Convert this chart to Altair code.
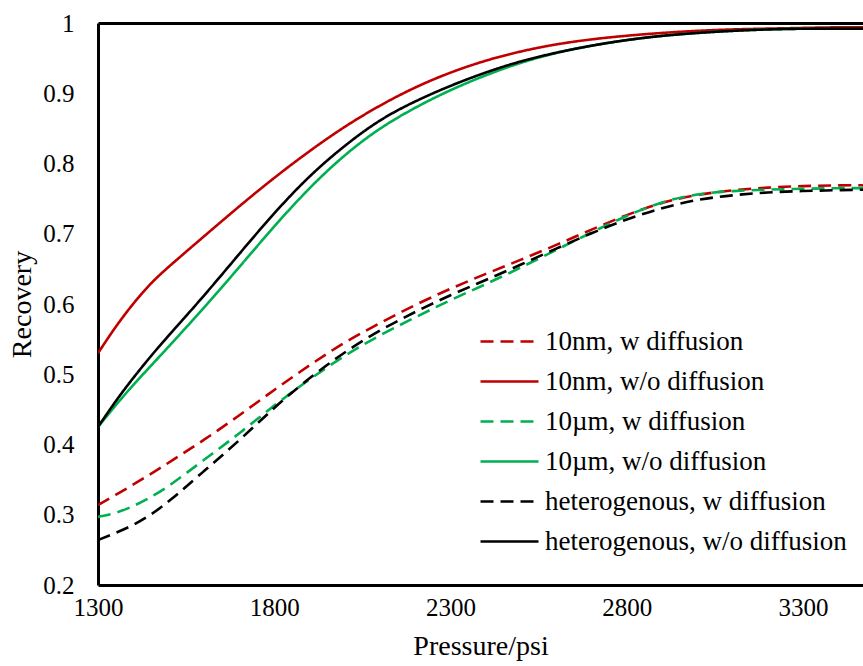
import altair as alt
import pandas as pd

pressure = [1300, 1350, 1400, 1450, 1500, 1600, 1700, 1800, 1900, 2000, 2100, 2200,
            2300, 2400, 2500, 2600, 2700, 2800, 2900, 3000, 3100, 3200, 3300, 3400, 3500]

nm_w = [0.314, 0.328, 0.343, 0.358, 0.374, 0.406, 0.441, 0.478, 0.513, 0.546, 0.573, 0.599,
        0.622, 0.643, 0.663, 0.684, 0.706, 0.727, 0.745, 0.756, 0.762, 0.766, 0.768, 0.769, 0.769]
nm_wo = [0.530, 0.568, 0.601, 0.630, 0.653, 0.696, 0.739, 0.780, 0.818, 0.853, 0.883, 0.909,
         0.930, 0.947, 0.960, 0.970, 0.977, 0.982, 0.986, 0.989, 0.991, 0.992, 0.993, 0.994, 0.994]
um_w = [0.297, 0.302, 0.312, 0.325, 0.340, 0.378, 0.415, 0.456, 0.493, 0.527, 0.556, 0.581,
        0.606, 0.628, 0.652, 0.677, 0.702, 0.726, 0.746, 0.757, 0.761, 0.763, 0.764, 0.765, 0.765]
um_wo = [0.425, 0.456, 0.485, 0.512, 0.539, 0.594, 0.652, 0.711, 0.766, 0.813, 0.851, 0.880,
         0.905, 0.926, 0.944, 0.958, 0.968, 0.976, 0.982, 0.986, 0.989, 0.991, 0.992, 0.992, 0.992]
het_w = [0.264, 0.274, 0.285, 0.300, 0.318, 0.362, 0.405, 0.453, 0.495, 0.532, 0.563, 0.589,
         0.613, 0.634, 0.656, 0.679, 0.701, 0.721, 0.737, 0.749, 0.755, 0.759, 0.761, 0.762, 0.763]
het_wo = [0.425, 0.462, 0.495, 0.526, 0.555, 0.611, 0.671, 0.730, 0.783, 0.826, 0.863, 0.889,
          0.911, 0.930, 0.946, 0.958, 0.968, 0.976, 0.982, 0.986, 0.989, 0.991, 0.992, 0.992, 0.992]

series_names = ["10nm, w diffusion", "10nm, w/o diffusion", "10µm, w diffusion",
                "10µm, w/o diffusion", "heterogenous, w diffusion", "heterogenous, w/o diffusion"]
series_values = [nm_w, nm_wo, um_w, um_wo, het_w, het_wo]
series_colors = ["#C00000", "#C00000", "#00B050", "#00B050", "#000000", "#000000"]
series_dash = [[13, 7], [1, 0], [13, 7], [1, 0], [13, 7], [1, 0]]

rows = []
for name, vals in zip(series_names, series_values):
    for p, v in zip(pressure, vals):
        rows.append({"Pressure": p, "Recovery": v, "series": name})
df = pd.DataFrame(rows)

FONT = "Liberation Serif"
xscale = alt.Scale(domain=[1300, 3470], nice=False, zero=False)
yscale = alt.Scale(domain=[0.2, 1.0], nice=False, zero=False)

legend_cfg = dict(title=None, orient="none", legendX=385, legendY=292,
                  symbolType="M-1.16,0H1.16", symbolSize=2500, symbolStrokeWidth=2.6,
                  symbolFillColor="transparent",
                  labelFont=FONT, labelFontSize=27, labelColor="black",
                  rowPadding=0, labelOffset=9, labelLimit=400)

lines = alt.Chart(df).mark_line(strokeWidth=2.6, interpolate="basis", clip=True).encode(
    x=alt.X("Pressure:Q", scale=xscale,
            axis=alt.Axis(values=[1300, 1800, 2300, 2800, 3300], format="d",
                          title="Pressure/psi",
                          grid=False, ticks=False, tickSize=0, labelPadding=10,
                          domainColor="black", domainWidth=3, labelFont=FONT, labelFontSize=25,
                          labelColor="black", titleFont=FONT, titleFontSize=28,
                          titleFontWeight="normal", titleColor="black", titlePadding=12,
                          labelFlush=False)),
    y=alt.Y("Recovery:Q", scale=yscale,
            axis=alt.Axis(values=[0.2, 0.3, 0.4, 0.5, 0.6, 0.7, 0.8, 0.9, 1.0],
                          labelExpr="datum.value == 1 ? '1' : format(datum.value, '.1f')",
                          title="Recovery", grid=False, ticks=False, tickSize=0,
                          labelPadding=24, domainColor="black", domainWidth=3,
                          labelFont=FONT, labelFontSize=25, labelColor="black",
                          titleFont=FONT, titleFontSize=28, titleFontWeight="normal",
                          titleColor="black", titlePadding=6, labelFlush=False)),
    color=alt.Color("series:N",
                    scale=alt.Scale(domain=series_names, range=series_colors),
                    legend=alt.Legend(**legend_cfg)),
    strokeDash=alt.StrokeDash("series:N",
                              scale=alt.Scale(domain=series_names, range=series_dash),
                              legend=alt.Legend(**legend_cfg)),
    order=alt.Order("Pressure:Q"),
)

top = alt.Chart(df).mark_line(opacity=0).encode(
    x=alt.X("Pressure:Q", scale=xscale,
            axis=alt.Axis(orient="top", labels=False, ticks=False, title=None, grid=False,
                          domainColor="black", domainWidth=3)),
    y=alt.Y("Recovery:Q", scale=yscale),
    detail="series:N",
)

chart = alt.layer(lines, top).resolve_axis(x="independent").properties(
    width=765, height=562,
    autosize=alt.AutoSizeParams(type="none"),
    padding={"left": 98, "top": 23, "right": 0, "bottom": 81},
    background="white",
).configure(font=FONT).configure_view(stroke=None)

chart.save("out.html", embed_options={"renderer": "svg", "actions": False})
